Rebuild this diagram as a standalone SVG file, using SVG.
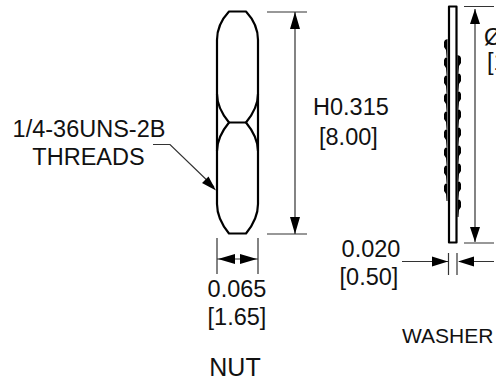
<svg xmlns="http://www.w3.org/2000/svg" width="496" height="383" viewBox="0 0 496 383">
<style>
text{font-family:"Liberation Sans",Arial,sans-serif;font-size:23.500px;fill:#111}
.part{fill:none;stroke:#000;stroke-width:2.200;stroke-linejoin:round}
.dim{fill:none;stroke:#333;stroke-width:1.200}
.head{fill:#000}
</style>
<defs>
<path id="tl" d="M447.500 0L445 1 444 3 444 8 446 11 446.500 18 447.500 18Z"/>
<path id="tr" d="M457.500 0L460 1 461 3 461 8 459 11 458.500 18 457.500 18Z"/>
</defs>
<rect width="496" height="383" fill="#fff"/>
<g id="nut">
<path class="part" d="M229 11.500H246C253 19 258 28 258 40V94C258 105 253 114 246 122.500C253 131 258 140 258 151V204C258 216 253 225 246 233.500H229C222 225 217 216 217 204V151C217 140 222 131 229 122.500C222 114 217 105 217 94V40C217 28 222 19 229 11.500Z"/>
<path class="part" d="M229 122.500H246M217 94V151M258 94V151"/>
</g>
<g id="washer">
<rect class="part" x="449" y="6.500" width="7.500" height="236"/>
<use href="#tl" y="39"/><use href="#tl" y="57"/><use href="#tl" y="75"/><use href="#tl" y="93"/><use href="#tl" y="111"/><use href="#tl" y="129"/><use href="#tl" y="147"/><use href="#tl" y="165"/><use href="#tl" y="183" />
<use href="#tr" y="55"/><use href="#tr" y="73"/><use href="#tr" y="91"/><use href="#tr" y="109"/><use href="#tr" y="127"/><use href="#tr" y="145"/><use href="#tr" y="163"/><use href="#tr" y="181"/><use href="#tr" y="199"/>
</g>
<g id="connectors">
<path class="dim" d="M267 12H307M267 234H307M295 12V234M217 238V274M258 238V274M217 259H258M464 6.500H494M464 243H494M475 9V242M448.500 253V275M457 253V275M402 261.500H448M459 261.500H494M153 144.500H170L214 187"/>
<path class="head" d="M295 12l-5 17h10zM295 234l-5-17h10zM218 259l17-5v10zM257 259l-17-5v10zM475 9l-5 15h10zM475 242l-5-15h10zM448 261.500l-16-5v10zM458 261.500l16-5v10zM216 190.500l-14-7.500 6.500-6.500z"/>
</g>
<g id="labels">
<text x="89" y="137" text-anchor="middle">1/4-36UNS-2B</text>
<text x="88.500" y="165" text-anchor="middle">THREADS</text>
<text x="313" y="115">H0.315</text>
<text x="319" y="145">[8.00]</text>
<text x="237" y="297" text-anchor="middle">0.065</text>
<text x="237" y="325" text-anchor="middle">[1.65]</text>
<text x="235" y="376" text-anchor="middle" style="font-size:25px">NUT</text>
<text x="371" y="257" text-anchor="middle">0.020</text>
<text x="369" y="285" text-anchor="middle">[0.50]</text>
<text x="402" y="343" style="font-size:21px">WASHER</text>
<text x="484" y="45">Ø</text>
<text x="487" y="70">[1</text>
</g>
</svg>
